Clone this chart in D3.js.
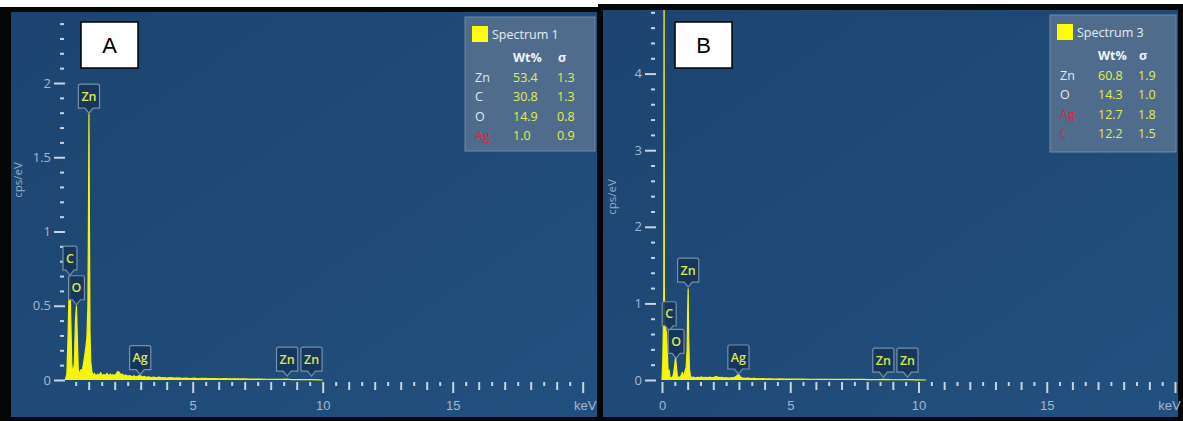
<!DOCTYPE html>
<html><head><meta charset="utf-8">
<script src="https://cdn.jsdelivr.net/npm/d3@7"></script>
<style>
html,body{margin:0;padding:0;background:#fff;}
svg{display:block;font-family:"Open Sans","Noto Sans",sans-serif;}
</style></head><body>
<svg id="chart" width="1183" height="421"></svg>
<script>
// EDS spectrum A: [energy keV, counts per eV]
const spectrumA = [
  [0.10,0],[0.16,0.04],[0.20,0.25],[0.24,0.55],[0.28,0.70],[0.31,0.42],[0.35,0.10],[0.40,0.04],
  [0.45,0.12],[0.49,0.40],[0.53,0.50],[0.56,0.30],[0.60,0.07],[0.65,0.04],[0.70,0.07],[0.75,0.06],
  [0.80,0.11],[0.85,0.17],[0.89,0.22],[0.93,0.28],[0.97,0.50],[0.99,1.05],[1.01,1.79],[1.03,1.00],
  [1.05,0.32],[1.08,0.12],[1.12,0.06],[1.16,0.03],[1.22,0.045],[1.28,0.025],[1.34,0.04],[1.40,0.03],
  [1.46,0.05],[1.52,0.028],[1.58,0.038],[1.64,0.03],[1.70,0.045],[1.76,0.027],[1.82,0.04],[1.88,0.032],
  [1.94,0.036],[2.00,0.03],[2.06,0.042],[2.12,0.058],[2.18,0.05],[2.24,0.035],[2.30,0.04],[2.36,0.028],
  [2.42,0.034],[2.50,0.026],[2.58,0.03],[2.66,0.022],[2.74,0.028],[2.82,0.02],[2.90,0.026],[2.98,0.03],
  [3.06,0.02],[3.14,0.024],[3.22,0.018],[3.30,0.022],[3.40,0.017],[3.50,0.02],[3.60,0.015],[3.70,0.019],
  [3.80,0.014],[3.90,0.017],[4.00,0.013],[4.15,0.016],[4.30,0.012],[4.45,0.014],[4.60,0.011],[4.75,0.013],
  [4.90,0.010],[5.05,0.012],[5.20,0.010],[5.40,0.011],[5.60,0.009],[5.80,0.010],[6.00,0.008],[6.20,0.009],
  [6.40,0.008],[6.60,0.008],[6.80,0.007],[7.00,0.007],[7.20,0.006],[7.40,0.006],[7.60,0.006],[7.80,0.005],
  [8.00,0.005],[8.20,0.004],[8.40,0.004],[8.63,0.006],[8.80,0.003],[9.00,0.002],[9.30,0.002],[9.57,0.003],
  [9.80,0.001],[10.0,0]
];
// EDS spectrum B: [energy keV, counts per eV]
const spectrumB = [
  [0.00,0],[0.03,0.25],[0.05,0.66],[0.07,1.2],[0.08,5.6],[0.09,1.2],[0.11,0.70],[0.14,0.68],
  [0.17,0.62],[0.20,0.45],[0.23,0.18],[0.25,0.08],[0.28,0.13],[0.31,0.04],[0.36,0.03],[0.41,0.04],
  [0.45,0.08],[0.49,0.18],[0.53,0.30],[0.56,0.18],[0.60,0.05],[0.65,0.03],[0.70,0.04],[0.75,0.06],
  [0.79,0.10],[0.82,0.07],[0.86,0.06],[0.90,0.12],[0.94,0.16],[0.98,0.40],[1.00,0.90],[1.02,1.19],
  [1.04,0.55],[1.07,0.14],[1.11,0.05],[1.16,0.03],[1.22,0.04],[1.30,0.025],[1.38,0.035],[1.46,0.03],
  [1.54,0.04],[1.62,0.028],[1.70,0.035],[1.78,0.03],[1.86,0.038],[1.94,0.03],[2.02,0.036],[2.10,0.045],
  [2.18,0.038],[2.26,0.03],[2.34,0.034],[2.42,0.026],[2.50,0.03],[2.60,0.024],[2.70,0.028],[2.80,0.03],
  [2.90,0.05],[2.98,0.075],[3.06,0.04],[3.15,0.024],[3.25,0.02],[3.35,0.024],[3.45,0.018],[3.60,0.02],
  [3.75,0.016],[3.90,0.018],[4.05,0.014],[4.20,0.016],[4.40,0.013],[4.60,0.014],[4.80,0.012],[5.00,0.012],
  [5.25,0.011],[5.50,0.011],[5.75,0.010],[6.00,0.010],[6.30,0.009],[6.60,0.009],[6.90,0.008],[7.20,0.008],
  [7.50,0.007],[7.80,0.007],[8.10,0.006],[8.40,0.005],[8.63,0.008],[8.90,0.004],[9.20,0.003],[9.57,0.005],
  [9.90,0.002],[10.3,0]
];

const yTicksA = [0, 0.5, 1, 1.5, 2];
const yTicksB = [0, 1, 2, 3, 4];
const xTickLabelsA = [5, 10, 15];
const xTickLabelsB = [0, 5, 10, 15];

// peak markers: [element, energy keV, marker tip cps]
const peaksA = [["Ag",2.98,0.03],["Zn",8.63,0.02],["Zn",9.57,0.02],["C",0.28,0.70],["O",0.53,0.50],["Zn",1.01,1.79]];
const peaksB = [["Ag",2.98,0.065],["Zn",8.63,0.025],["Zn",9.57,0.025],["C",0.28,0.63],["O",0.55,0.27],["Zn",1.02,1.20]];

// quantification tables
const elementsA = ["Zn","C","O","Ag"];
const wtA = ["53.4","30.8","14.9","1.0"];
const sigmaA = ["1.3","1.3","0.8","0.9"];
const elementsB = ["Zn","O","Ag","C"];
const wtB = ["60.8","14.3","12.7","12.2"];
const sigmaB = ["1.9","1.0","1.8","1.5"];
const flaggedA = ["Ag"];
const flaggedB = ["Ag","C"];

const svg = d3.select("#chart");
const defs = svg.append("defs");

const YELLOW = "#f4f40c";
const TICK = "#c6d4e2";
const LABEL = "#a3b8cd";

function panel(cfg) {
  const g = svg.append("g");
  // frame
  g.append("rect").attr("x", cfg.frame[0]).attr("y", cfg.frame[1])
    .attr("width", cfg.frame[2]).attr("height", cfg.frame[3]).attr("fill", "#050608");
  const gradId = "bg" + cfg.id;
  const grad = defs.append("linearGradient").attr("id", gradId)
    .attr("x1", 0).attr("y1", 0).attr("x2", 1).attr("y2", 1);
  grad.append("stop").attr("offset", 0).attr("stop-color", "#1d4470");
  grad.append("stop").attr("offset", 1).attr("stop-color", "#22507e");
  g.append("rect").attr("x", cfg.inner[0]).attr("y", cfg.inner[1])
    .attr("width", cfg.inner[2]).attr("height", cfg.inner[3]).attr("fill", `url(#${gradId})`);

  const x = d3.scaleLinear().domain([0, 20]).range([cfg.x0, cfg.x20]);
  const y = d3.scaleLinear().domain([0, cfg.yMax]).range([cfg.yZero, cfg.yTop]);

  // clip for the spectrum
  const clipId = "clip" + cfg.id;
  defs.append("clipPath").attr("id", clipId).append("rect")
    .attr("x", cfg.inner[0]).attr("y", cfg.inner[1]).attr("width", cfg.inner[2]).attr("height", cfg.inner[3]);

  // y axis
  const yMinor = d3.range(0, cfg.yMax + 1e-9, cfg.yMinorStep).map(v => +v.toFixed(2));
  const yAxis = d3.axisLeft(y).tickValues(yMinor).tickSize(11).tickPadding(3)
    .tickFormat(d => cfg.yTicks.includes(d) ? String(d) : "");
  const ya = g.append("g").attr("transform", `translate(${cfg.yAxisX},0)`).call(yAxis);
  ya.select(".domain").remove();
  ya.selectAll(".tick line").attr("stroke", TICK).attr("stroke-width", 2)
    .attr("x2", d => cfg.yTicks.includes(d) ? -11 : -5)
    .attr("x1", d => cfg.yTicks.includes(d) ? 0 : -1);
  ya.selectAll(".tick text").attr("fill", LABEL).attr("font-size", 13)
    .attr("x", cfg.yLabelX - cfg.yAxisX).attr("font-family", "'Open Sans',sans-serif");

  // x axis
  const xMinor = d3.range(cfg.xStart, 20.001, 0.5).map(v => +v.toFixed(1));
  const xAxis = d3.axisBottom(x).tickValues(xMinor).tickSize(8).tickPadding(14)
    .tickFormat(d => cfg.xLabels.includes(d) ? String(d) : (d === 20 ? "keV" : ""));
  const xa = g.append("g").attr("transform", `translate(0,${cfg.yZero + 2})`).call(xAxis);
  xa.select(".domain").remove();
  xa.selectAll(".tick line").attr("stroke", TICK).attr("stroke-width", 2)
    .attr("y2", d => d % 5 === 0 ? 11 : (Number.isInteger(d) ? 8 : 4));
  xa.selectAll(".tick text").attr("fill", LABEL).attr("font-size", 13)
    .attr("y", 24).attr("dy", "0.32em")
    .attr("dx", d => d === 20 ? cfg.kevShift : 0);

  // axis title
  g.append("text").attr("transform", `translate(${cfg.titleX},${cfg.titleY}) rotate(-90)`)
    .attr("text-anchor", "middle").attr("fill", "#98afc6").attr("font-size", 11.5).text("cps/eV");

  // spectrum
  const area = d3.area().x(d => x(d[0])).y0(y(0)).y1(d => y(d[1]));
  const line = d3.line().x(d => x(d[0])).y(d => y(d[1]));
  const sg = g.append("g").attr("clip-path", `url(#${clipId})`);
  sg.append("path").datum(cfg.data).attr("d", area).attr("fill", YELLOW);
  sg.append("path").datum(cfg.data).attr("d", line).attr("fill", "none")
    .attr("stroke", YELLOW).attr("stroke-width", 1.2).attr("stroke-linejoin", "round");

  // peak markers
  cfg.peaks.forEach(([el, kev, v]) => {
    const tx = x(kev), ty = y(v) - 1;
    const pg = g.append("g");
    const path = pg.append("path");
    const t = pg.append("text").text(el).attr("fill", "#d9e85a").attr("font-size", 12.5)
      .attr("font-weight", 600).attr("text-anchor", "middle")
      .attr("font-family", "'Open Sans',sans-serif");
    const w = t.node().getComputedTextLength() + 6;
    const h = 24, bottom = ty - 5, top = bottom - h;
    const l = tx - w / 2, r = tx + w / 2;
    path.attr("d", `M${l},${top + 2} Q${l},${top} ${l + 2},${top} H${r - 2} Q${r},${top} ${r},${top + 2}
      V${bottom} H${tx + 4} L${tx},${ty} L${tx - 4},${bottom} H${l} Z`)
      .attr("fill", "rgba(22,52,88,0.9)").attr("stroke", "#7690ad").attr("stroke-width", 1.2);
    t.attr("x", tx).attr("y", (top + bottom) / 2 + 4.5);
  });

  // quantification legend
  const L = cfg.legend;
  const lg = g.append("g");
  lg.append("rect").attr("x", L.x).attr("y", L.y).attr("width", L.w).attr("height", L.h)
    .attr("fill", "#4f6c8d").attr("stroke", "#6f8aa8").attr("stroke-width", 1);
  lg.append("rect").attr("x", L.x + 7).attr("y", L.y + 9).attr("width", 16).attr("height", 16)
    .attr("fill", "#ffff00");
  lg.append("text").attr("x", L.x + 27).attr("y", L.y + 22).attr("fill", "#e6edf4")
    .attr("font-size", 12.5).text(cfg.spectrumName);
  lg.append("text").attr("x", L.x + L.c1).attr("y", L.y + 45).attr("fill", "#f2f5f8")
    .attr("font-size", 12.5).attr("font-weight", 700).text("Wt%");
  lg.append("text").attr("x", L.x + L.c2 + 1).attr("y", L.y + 45).attr("fill", "#f2f5f8")
    .attr("font-size", 12.5).attr("font-weight", 700).text("σ");
  cfg.elements.forEach((el, i) => {
    const by = L.y + 65 + i * 19.3;
    lg.append("text").attr("x", L.x + 10).attr("y", by).attr("font-size", 12.5)
      .attr("fill", cfg.flagged.includes(el) ? "#e0233d" : "#e3e9f0").text(el);
    lg.append("text").attr("x", L.x + L.c1).attr("y", by).attr("font-size", 12.5)
      .attr("fill", "#e4ee4c").text(cfg.wt[i]);
    lg.append("text").attr("x", L.x + L.c2).attr("y", by).attr("font-size", 12.5)
      .attr("fill", "#e4ee4c").text(cfg.sigma[i]);
  });

  // panel letter
  g.append("rect").attr("x", cfg.letterX).attr("y", 22).attr("width", 57).attr("height", 46)
    .attr("fill", "#fff").attr("stroke", "#000").attr("stroke-width", 1.5);
  g.append("text").attr("x", cfg.letterX + 28.5).attr("y", 53).attr("text-anchor", "middle")
    .attr("font-family", "'Liberation Sans',Arial,sans-serif").attr("font-size", 22)
    .attr("fill", "#000").text(cfg.letter);
}

panel({
  id: "A", frame: [0, 7, 600, 414], inner: [11, 12, 586, 405],
  x0: 62.7, x20: 582.7, yZero: 380, yMax: 2.4, yTop: 380 - 2.4 * 148.5,
  yMinorStep: 0.1, yTicks: yTicksA, yAxisX: 65, yLabelX: 51,
  xStart: 0.5, xLabels: xTickLabelsA, kevShift: 2,
  titleX: 22, titleY: 180, data: spectrumA, peaks: peaksA,
  legend: {x: 465, y: 17, w: 130, h: 134, c1: 48, c2: 92},
  spectrumName: "Spectrum 1", elements: elementsA, wt: wtA, sigma: sigmaA, flagged: flaggedA,
  letter: "A", letterX: 81
});

panel({
  id: "B", frame: [598, 4, 585, 417], inner: [603, 10, 575, 407],
  x0: 662, x20: 1175, yZero: 380, yMax: 4.8, yTop: 380 - 4.8 * 76.6,
  yMinorStep: 0.2, yTicks: yTicksB, yAxisX: 656, yLabelX: 642,
  xStart: 0, xLabels: xTickLabelsB, kevShift: -6,
  titleX: 616, titleY: 197, data: spectrumB, peaks: peaksB,
  legend: {x: 1050, y: 15, w: 126, h: 137, c1: 48, c2: 88},
  spectrumName: "Spectrum 3", elements: elementsB, wt: wtB, sigma: sigmaB, flagged: flaggedB,
  letter: "B", letterX: 675
});
</script>
</body></html>
